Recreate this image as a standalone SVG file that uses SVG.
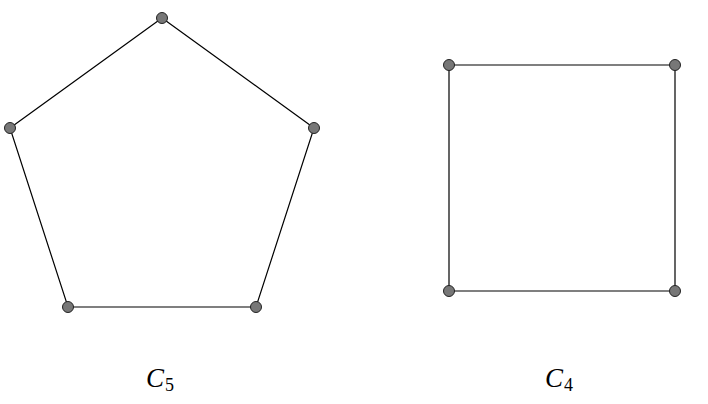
<svg xmlns="http://www.w3.org/2000/svg" width="708" height="404" viewBox="0 0 708 404">
<style>
.e{stroke:#000;stroke-width:1.2;fill:none}
.n{fill:#777;stroke:#222;stroke-width:1}
.c{font-family:"Liberation Serif",serif;font-style:italic;font-size:27px}
.s{font-family:"Liberation Serif",serif;font-size:18px}
</style>
<rect width="708" height="404" fill="#fff"/>
<g id="edges">
<polygon class="e" points="162,18 314,128 256,307 68,307 10,128"/>
<polygon class="e" points="449,65 675,65 675,291 449,291"/>
</g>
<g id="p1"><circle class="n" cx="162" cy="18" r="5.5"/></g>
<g id="p2"><circle class="n" cx="314" cy="128" r="5.5"/></g>
<g id="p3"><circle class="n" cx="256" cy="307" r="5.5"/></g>
<g id="p4"><circle class="n" cx="68" cy="307" r="5.5"/></g>
<g id="p5"><circle class="n" cx="10" cy="128" r="5.5"/></g>
<g id="q1"><circle class="n" cx="449" cy="65" r="5.5"/></g>
<g id="q2"><circle class="n" cx="675" cy="65" r="5.5"/></g>
<g id="q3"><circle class="n" cx="675" cy="291" r="5.5"/></g>
<g id="q4"><circle class="n" cx="449" cy="291" r="5.5"/></g>
<g id="label-c5"><text x="146" y="387" class="c">C</text><text x="165" y="391" class="s">5</text></g>
<g id="label-c4"><text x="545" y="387" class="c">C</text><text x="564" y="391" class="s">4</text></g>
</svg>
